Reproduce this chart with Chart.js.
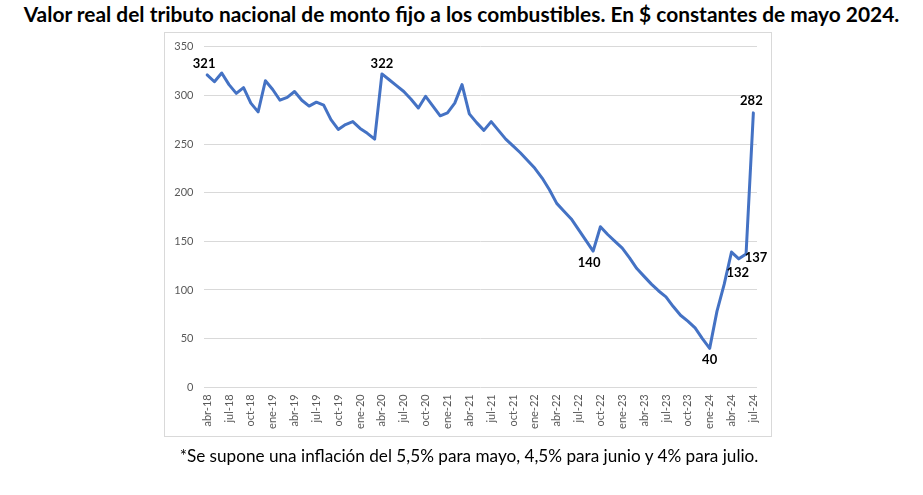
<!DOCTYPE html>
<html>
<head>
<meta charset="utf-8">
<script src="https://cdn.jsdelivr.net/npm/chart.js@4.4.1/dist/chart.umd.min.js"></script>
<style>
html, body { margin: 0; padding: 0; background: #ffffff; width: 923px; height: 495px; overflow: hidden; }
#title { position: absolute; left: 0; width: 923px; text-align: center; font-family: Lato, "DejaVu Sans", sans-serif; font-weight: bold; white-space: nowrap; color: #000; line-height: 1.2; }
#note { position: absolute; left: 0; width: 938px; text-align: center; font-family: Lato, "DejaVu Sans", sans-serif; font-weight: normal; white-space: nowrap; color: #000; line-height: 1.2; }
#frame { position: absolute; left: 164px; top: 32px; width: 608px; height: 405px; border: 1px solid #d9d9d9; box-sizing: border-box; }
#wrap { position: absolute; left: 0; top: 0; width: 923px; height: 495px; }
</style>
</head>
<body>
<div id="title"><span>Valor real del tributo nacional de monto fijo a los combustibles. En $ constantes de mayo 2024.</span></div>
<div id="frame"></div>
<div id="wrap"><canvas id="c" width="923" height="495"></canvas></div>
<div id="note"><span>*Se supone una inflación del 5,5% para mayo, 4,5% para junio y 4% para julio.</span></div>
<script>
// ---- data ----
const months = [
  'abr-18','may-18','jun-18','jul-18','ago-18','sep-18','oct-18','nov-18','dic-18',
  'ene-19','feb-19','mar-19','abr-19','may-19','jun-19','jul-19','ago-19','sep-19','oct-19','nov-19','dic-19',
  'ene-20','feb-20','mar-20','abr-20','may-20','jun-20','jul-20','ago-20','sep-20','oct-20','nov-20','dic-20',
  'ene-21','feb-21','mar-21','abr-21','may-21','jun-21','jul-21','ago-21','sep-21','oct-21','nov-21','dic-21',
  'ene-22','feb-22','mar-22','abr-22','may-22','jun-22','jul-22','ago-22','sep-22','oct-22','nov-22','dic-22',
  'ene-23','feb-23','mar-23','abr-23','may-23','jun-23','jul-23','ago-23','sep-23','oct-23','nov-23','dic-23',
  'ene-24','feb-24','mar-24','abr-24','may-24','jun-24','jul-24'
];
const realValue = [
  321, 314, 323, 311, 302, 308, 292, 283, 315,
  306, 295, 298, 304, 295, 289, 293, 290, 275, 265, 270, 273,
  266, 261, 255, 322, 316, 310, 304, 296, 287, 299, 289, 279,
  282, 292, 311, 281, 272, 264, 273, 264, 255, 248, 241, 233,
  225, 215, 203, 189, 181, 173, 162, 151, 140, 165, 157, 150,
  143, 133, 122, 114, 106, 99, 93, 83, 74, 68, 61, 50,
  40, 78, 106, 139, 132, 137, 282
];
const shownTickLabels = ['abr-18','jul-18','oct-18','ene-19','abr-19','jul-19','oct-19','ene-20','abr-20','jul-20','oct-20','ene-21','abr-21','jul-21','oct-21','ene-22','abr-22','jul-22','oct-22','ene-23','abr-23','jul-23','oct-23','ene-24','abr-24','jul-24'];
const yTicks = [0, 50, 100, 150, 200, 250, 300, 350];
const labeledMonths = ['abr-18','abr-20','sep-22','ene-24','may-24','jun-24','jul-24'];

// ---- text fitting (layout only) ----
function fit(id, targetWidth, baseline, startSize) {
  const div = document.getElementById(id);
  const span = div.querySelector('span');
  div.style.fontSize = startSize + 'px';
  const w = span.getBoundingClientRect().width;
  const fs = startSize * targetWidth / w;
  div.style.fontSize = fs + 'px';
  div.style.top = (baseline - 0.987 * fs - 0.1 * fs + 0.1 * fs) + 'px';
}
fit('title', 876, 22, 19);
fit('note', 579, 463, 16);

// ---- label plugin ----
const labelOffsets = {
  'abr-18': [-3, -11], 'abr-20': [0, -10], 'sep-22': [-4, 12], 'ene-24': [0, 11],
  'may-24': [-1, 14], 'jun-24': [10, 4], 'jul-24': [-2, -12]
};
const pointLabels = {
  id: 'pointLabels',
  afterDatasetsDraw(chart) {
    const ctx = chart.ctx;
    const meta = chart.getDatasetMeta(0);
    ctx.save();
    ctx.font = 'bold 13px Lato, "DejaVu Sans", sans-serif';
    ctx.fillStyle = '#000000';
    ctx.textAlign = 'center';
    ctx.textBaseline = 'middle';
    labeledMonths.forEach(m => {
      const i = months.indexOf(m);
      const el = meta.data[i];
      const off = labelOffsets[m];
      ctx.fillText(String(realValue[i]), el.x + off[0], el.y + off[1]);
    });
    ctx.restore();
  }
};

const plotLeft = 203.5, plotRight = 757, plotTop = 46.7, plotBottom = 387.3;

new Chart(document.getElementById('c'), {
  type: 'line',
  data: {
    labels: months,
    datasets: [{
      data: realValue,
      borderColor: '#4472C4',
      borderWidth: 3,
      pointRadius: 0,
      pointHoverRadius: 0,
      tension: 0,
      fill: false,
      borderJoinStyle: 'round',
      borderCapStyle: 'round'
    }]
  },
  options: {
    responsive: false,
    animation: false,
    events: [],
    layout: { padding: { left: 0, right: 923 - plotRight, top: plotTop, bottom: 0 } },
    plugins: { legend: { display: false }, tooltip: { enabled: false }, title: { display: false } },
    scales: {
      x: {
        type: 'category',
        offset: true,
        grid: { display: false, drawTicks: false },
        border: { display: false },
        afterFit(scale) { scale.height = 495 - plotBottom; },
        ticks: {
          autoSkip: false,
          maxRotation: 90,
          minRotation: 90,
          padding: 7,
          color: '#595959',
          font: { family: 'Lato, "DejaVu Sans", sans-serif', size: 11 },
          callback(v, i) { const l = months[i]; return shownTickLabels.includes(l) ? l : ''; }
        }
      },
      y: {
        min: yTicks[0],
        max: yTicks[yTicks.length - 1],
        afterBuildTicks(scale) { scale.ticks = yTicks.map(v => ({ value: v })); },
        grid: { color: '#d9d9d9', lineWidth: 1, drawTicks: false },
        border: { display: false },
        afterFit(scale) { scale.width = plotLeft; },
        ticks: {
          padding: 10,
          color: '#595959',
          font: { family: 'Lato, "DejaVu Sans", sans-serif', size: 11 }
        }
      }
    }
  },
  plugins: [pointLabels]
});
</script>
</body>
</html>
